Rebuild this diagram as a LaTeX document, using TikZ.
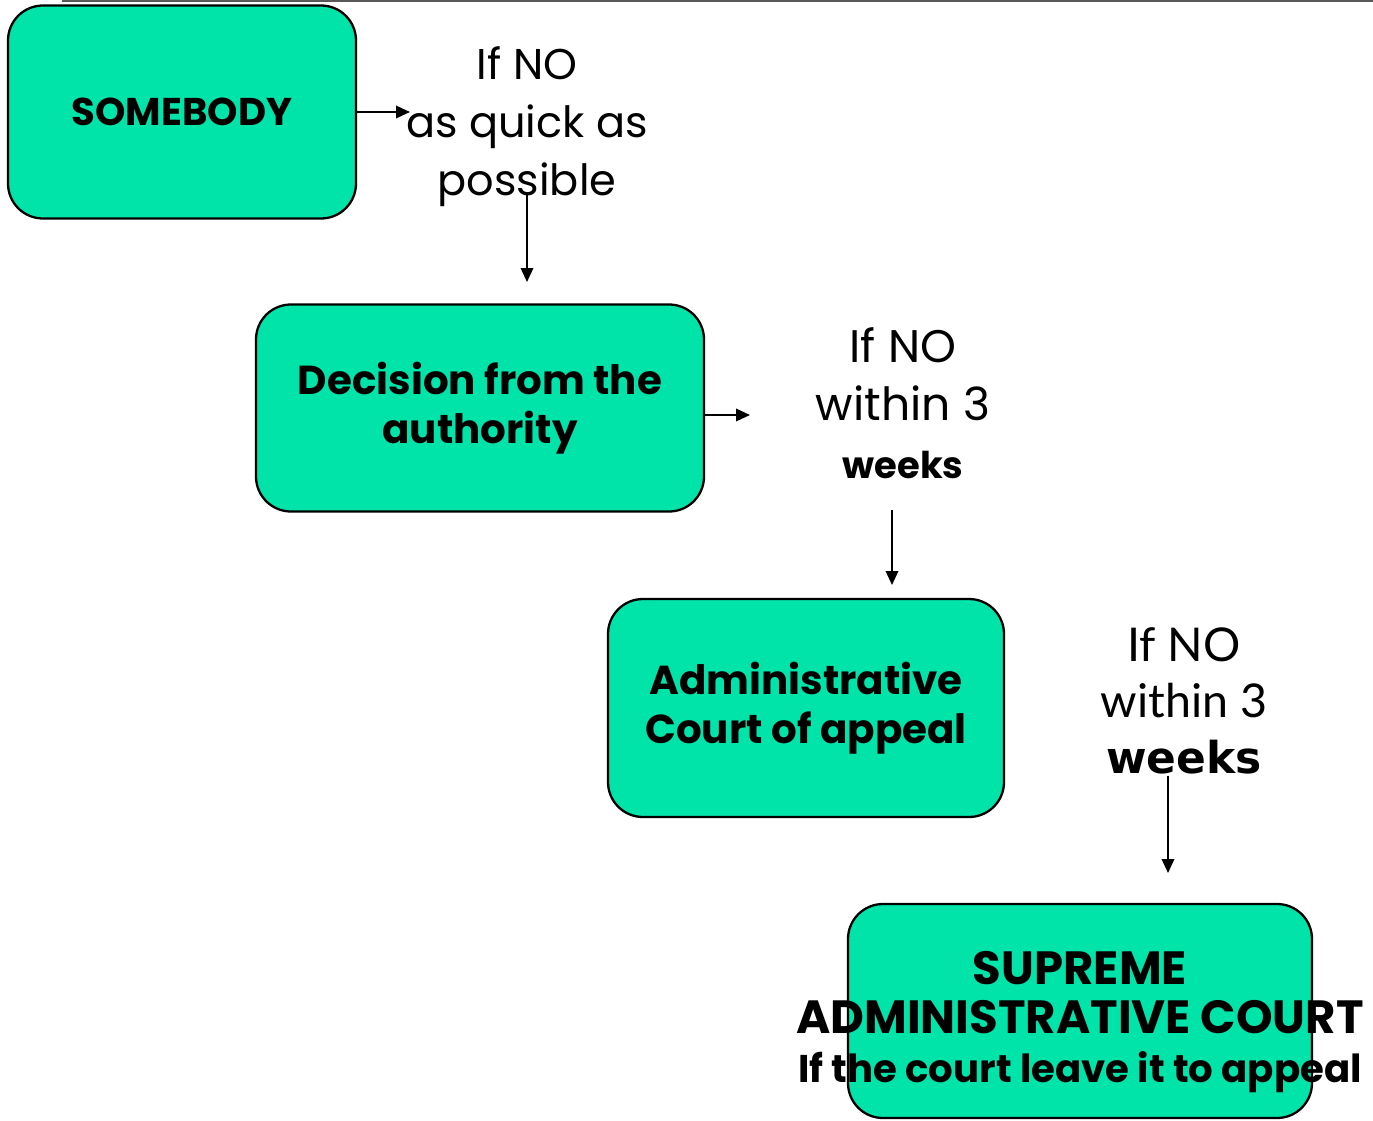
\documentclass[tikz,border=0pt]{standalone}
\usepackage{fontspec}
\usetikzlibrary{arrows.meta}
\setmainfont{Poppins}
\newfontfamily\thinfont{Lato}
\newfontfamily\heavyfont{DejaVu Sans}
\definecolor{boxgreen}{HTML}{00E3A9}

\begin{document}
\begin{tikzpicture}[
		x=0.2mm, y=-0.2mm,
		>={Triangle[length=2.8mm,width=2.5mm]},
		box/.style={
			draw,
			line width=1.3pt,
			rounded corners=7mm,
			fill=boxgreen,
			align=center,
			font=\fontsize{23}{28}\selectfont\bfseries
		},
		boxtext/.style={
			align=center,
			font=\fontsize{26.5}{28}\selectfont\bfseries
		},
		trans/.style={->, line width=1.1pt},
		lab/.style={
			align=center,
			font=\fontsize{24.5}{33}\selectfont
		}
		]
		
		\useasboundingbox (0,0) rectangle (1373,1120);
		\draw[gray!70!black, line width=1pt] (62,1) -- (1373,1);
		
		% Boxes
		\node[box, minimum width=69.6mm, minimum height=42.6mm, font=\fontsize{22}{28}\selectfont\bfseries] (somebody) at (182,112) {SOMEBODY};
		\node[box, minimum width=89.6mm, minimum height=41.4mm] (decision) at (480,408) {Decision from the\\authority};
		\node[box, minimum width=79.2mm, minimum height=43.6mm] (admin) at (806,708) {Administrative\\Court of appeal};
		\node[box, minimum width=92.8mm, minimum height=42.8mm] (supreme) at (1080,1011) {};
		\node[boxtext] (supremetext) at (1080,1022) {SUPREME\\ADMINISTRATIVE COURT\\{\fontsize{22}{26}\selectfont If the court leave it to appeal}};
		
		% Conditions
		\node[lab] (quick) at (527,127) {If NO\\as quick as\\possible};
		\node[lab, font=\fontsize{26}{33}\selectfont] (weeksA) at (903,403) {If NO\\within 3\\{\fontsize{21}{26}\selectfont\bfseries weeks}};
		\node[lab, font=\fontsize{26.5}{32}\thinfont] (weeksB) at (1184,701) {If NO\\within 3\\{\fontsize{25}{30}\heavyfont\bfseries weeks}};
		
		% Free ends
		\coordinate (quickin) at (410,112);
		\coordinate (decin) at (527,282);
		\coordinate (weeksAin) at (750,415);
		\coordinate (adminin) at (892,585);
		\coordinate (supremein) at (1168,873);
		
		% Steps
		\draw[trans] (somebody) -- (quickin);
		\draw[trans] (quick.south -| decin) ++(0,-20) -- (decin);
		\draw[trans] (decision.east |- weeksAin) -- (weeksAin);
		\draw[trans] (weeksA.south -| adminin) ++(0,25) -- (adminin);
		\draw[trans] (weeksB.south -| supremein) ++(0,-5) -- (supremein);
		
	\end{tikzpicture}
\end{document}
